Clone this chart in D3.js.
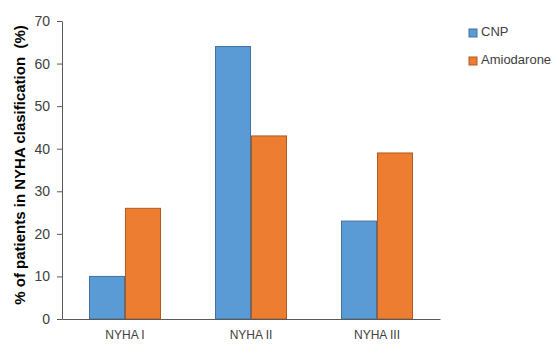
<!DOCTYPE html>
<html><head><meta charset="utf-8">
<script src="https://cdn.jsdelivr.net/npm/d3@7"></script>
<style>body{margin:0;background:#fff;}svg{display:block;}</style>
</head><body>
<script>
const categories = ["NYHA I", "NYHA II", "NYHA III"];
const seriesNames = ["CNP", "Amiodarone"];
const cnpValues = [10, 64, 23];
const amioValues = [26, 43, 39];
const yTicks = [0, 10, 20, 30, 40, 50, 60, 70];
const yLabel = "% of patients in NYHA clasification  (%)";

const W = 555, H = 345;
const fills = ["#5B9BD5", "#ED7D31"];
const strokes = ["#41719C", "#AE5A21"];
const font = "'Liberation Sans', Arial, sans-serif";

const svg = d3.select("body").append("svg").attr("width", W).attr("height", H);
const x0 = d3.scaleBand().domain(categories).range([62, 440]).paddingInner(0).paddingOuter(0);
const x1 = d3.scaleBand().domain(seriesNames).range([0, 72]);
const y = d3.scaleLinear().domain([0, 70]).range([319, 21]);

const data = categories.map((c, i) => ({cat: c, vals: [cnpValues[i], amioValues[i]]}));

const g = svg.append("g");
data.forEach(d => {
  d.vals.forEach((v, j) => {
    const xs = x0(d.cat) + (x0.bandwidth() - 72) / 2 + x1(seriesNames[j]);
    g.append("rect")
      .attr("x", xs + 0.5).attr("y", y(v))
      .attr("width", x1.bandwidth() - 1).attr("height", y(0) - y(v))
      .attr("fill", fills[j]).attr("stroke", strokes[j]).attr("stroke-width", 1);
  });
});

const yAxis = svg.append("g").attr("transform", "translate(62,0)")
  .call(d3.axisLeft(y).tickValues(yTicks).tickSize(5).tickSizeOuter(0));
yAxis.select(".domain").attr("stroke", "#595959");
yAxis.selectAll(".tick line").attr("stroke", "#595959");
yAxis.selectAll("text").attr("font-family", font).attr("font-size", 14).attr("fill", "#404040").attr("x", -12);

const xAxis = svg.append("g").attr("transform", "translate(0,319)")
  .call(d3.axisBottom(x0).tickSize(0).tickSizeOuter(0));
xAxis.select(".domain").attr("stroke", "#595959");
xAxis.selectAll("text").attr("font-family", font).attr("font-size", 12).attr("fill", "#404040").attr("dy", "1.45em");

svg.append("text")
  .attr("transform", "translate(21,165) rotate(-90)")
  .attr("text-anchor", "middle").attr("dominant-baseline", "middle")
  .style("white-space", "pre")
  .attr("font-family", font).attr("font-size", 15).attr("font-weight", "bold").attr("fill", "#000")
  .text(yLabel);

const leg = svg.append("g");
seriesNames.forEach((s, j) => {
  const cy = 33 + j * 28;
  leg.append("rect").attr("x", 469).attr("y", cy - 4).attr("width", 8).attr("height", 8)
    .attr("fill", fills[j]).attr("stroke", strokes[j]).attr("stroke-width", 1);
  leg.append("text").attr("x", 481).attr("y", cy).attr("dominant-baseline", "middle")
    .attr("font-family", font).attr("font-size", 13).attr("fill", "#404040").text(s);
});
</script>
</body></html>
